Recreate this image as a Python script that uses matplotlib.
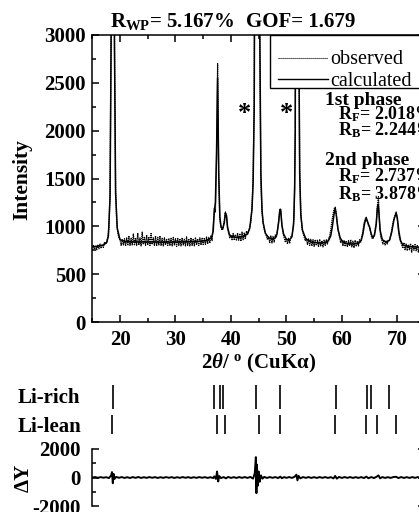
import numpy as np
import matplotlib
matplotlib.use("Agg")
import matplotlib.pyplot as plt
from matplotlib.patches import Rectangle
from matplotlib.lines import Line2D
from matplotlib.ticker import MultipleLocator, FixedLocator

plt.rcParams.update({
    'font.family': ['Liberation Serif', 'DejaVu Serif'],
    'font.weight': 'bold',
    'mathtext.fontset': 'custom',
    'mathtext.rm': 'Liberation Serif:bold',
    'mathtext.it': 'Liberation Serif:italic:bold',
    'mathtext.bf': 'Liberation Serif:bold',
    'axes.linewidth': 1.1,
    'axes.unicode_minus': False,
})

# ---------------- data ----------------
# observed pattern, sampled every 0.2 deg from 15.0 to 75.0
obs_intensity = [
    750, 805, 760, 800, 755, 810, 765, 815, 770, 810,
    780, 835, 818, 842, 885, 985, 1350, 3100, 9500, 8500,
    2900, 1400, 1050, 930, 880, 860, 800, 860, 805, 870,
    795, 880, 800, 900, 800, 875, 805, 920, 800, 880,
    800, 930, 805, 880, 795, 940, 810, 885, 800, 910,
    805, 890, 800, 925, 810, 880, 800, 900, 795, 885,
    805, 900, 800, 875, 795, 880, 805, 870, 800, 875,
    800, 875, 795, 885, 805, 870, 790, 880, 800, 870,
    795, 880, 805, 865, 795, 890, 800, 870, 795, 880,
    800, 870, 795, 885, 805, 870, 800, 880, 805, 875,
    810, 880, 810, 890, 815, 885, 825, 900, 850, 1000,
    1190, 1150, 1700, 2700, 1500, 1080, 990, 960, 985, 1050,
    1150, 1110, 975, 925, 880, 910, 860, 925, 855, 915,
    850, 930, 855, 925, 845, 940, 860, 930, 865, 950,
    920, 960, 990, 1050, 1200, 1500, 2300, 6000, 12000, 9000,
    5000, 3000, 1500, 1150, 1040, 975, 930, 895, 860, 890,
    830, 900, 825, 895, 835, 910, 890, 960, 1050, 1160,
    1175, 1010, 930, 880, 840, 870, 815, 875, 825, 890,
    900, 980, 1100, 2000, 8000, 10000, 3600, 1600, 1150, 990,
    930, 890, 850, 870, 810, 870, 800, 865, 795, 860,
    790, 860, 800, 855, 785, 865, 795, 850, 785, 855,
    800, 860, 815, 870, 900, 960, 1050, 1120, 1180, 1200,
    1130, 1020, 940, 880, 830, 860, 795, 855, 790, 850,
    785, 850, 795, 860, 785, 845, 775, 855, 790, 845,
    795, 860, 835, 895, 950, 1030, 1075, 1095, 1050, 1010,
    1000, 940, 880, 870, 900, 960, 1030, 1210, 1310, 1050,
    890, 860, 815, 850, 805, 845, 815, 860, 850, 900,
    960, 1030, 1080, 1120, 1150, 1080, 960, 880, 840, 810,
    770, 830, 755, 815, 745, 810, 755, 820, 730, 805,
    750, 810, 745, 800, 730, 795, 750, 805, 755, 800,
    775,
]
obs_2theta = np.round(np.arange(len(obs_intensity)) * 0.2 + 15.0, 2)

calc_2theta = [15, 16, 17, 17.6, 17.9, 18.2, 18.4, 18.6, 18.8, 19.0, 19.2, 19.5, 20, 21, 22,
               24, 26, 28, 30, 32, 34, 35.5, 36.5, 36.8, 37.0, 37.2, 37.4, 37.6, 37.8, 38.0,
               38.2, 38.5, 38.8, 39.0, 39.2, 39.4, 39.7, 40.0, 41, 42, 43, 43.4, 43.8, 44.0,
               44.2, 44.4, 44.6, 44.8, 45.0, 45.2, 45.4, 45.6, 45.8, 46.2, 46.8, 47.5, 48.0,
               48.3, 48.6, 48.8, 48.9, 49.0, 49.2, 49.5, 50, 50.5, 51.0, 51.3, 51.5, 51.6,
               51.8, 52.0, 52.2, 52.4, 52.6, 52.9, 53.5, 54.5, 56, 57, 57.6, 58.0, 58.3, 58.6,
               58.8, 59.0, 59.3, 59.7, 60.2, 61, 62, 63, 63.5, 63.8, 64.1, 64.4, 64.7, 65.0,
               65.3, 65.6, 65.9, 66.2, 66.4, 66.55, 66.7, 66.9, 67.3, 68, 68.6, 69.0, 69.4,
               69.8, 70.0, 70.3, 70.6, 71, 72, 73, 74, 75]
calc_intensity = [785, 792, 805, 830, 900, 1300, 3000, 9500, 8500, 2900, 1350, 980, 860, 840, 838,
                  836, 836, 835, 836, 838, 842, 850, 880, 950, 1150, 1250, 1750, 2550, 1550, 1100,
                  1000, 970, 1040, 1140, 1110, 990, 920, 895, 885, 890, 920, 980, 1180, 1450,
                  2250, 6000, 13000, 9500, 5200, 3100, 1550, 1180, 1040, 930, 880, 865, 880,
                  920, 1040, 1160, 1180, 1150, 1010, 920, 865, 855, 890, 1020, 1400, 2000,
                  8000, 10000, 3500, 1550, 1120, 960, 870, 835, 825, 830, 850, 900, 1000, 1130,
                  1190, 1120, 970, 880, 835, 818, 815, 825, 855, 920, 1030, 1085, 1040, 990,
                  920, 880, 910, 1020, 1180, 1230, 1130, 960, 860, 835, 855, 940, 1070,
                  1140, 1090, 940, 850, 805, 790, 785, 782, 780]

dy_2theta = [15.0, 15.5, 16.0, 16.5, 17.0, 17.5, 18.0, 18.4, 18.55, 18.7, 18.85, 19.0, 19.3, 19.8,
             20.3, 20.8, 21.3, 21.8, 22.3, 22.8, 23.3, 23.8, 24.3, 24.8, 25.3, 25.8, 26.3, 26.8,
             27.3, 27.8, 28.3, 28.8, 29.3, 29.8, 30.3, 30.8, 31.3, 31.8, 32.3, 32.8, 33.3, 33.8,
             34.3, 34.8, 35.3, 35.8, 36.3, 36.8, 37.0, 37.3, 37.5, 37.7, 37.9, 38.2, 38.7, 39.1,
             39.5, 40.0, 40.5, 41.0, 41.5, 42.0, 42.5, 43.0, 43.5, 44.0, 44.3, 44.5, 44.6, 44.7,
             44.8, 45.0, 45.2, 45.4, 45.7, 46.0, 46.5, 47.0, 47.5, 48.0, 48.5, 48.9, 49.2, 49.6,
             50.0, 50.5, 51.0, 51.5, 51.8, 52.0, 52.2, 52.5, 53.0, 53.5, 54.0, 54.5, 55.0, 55.5,
             56.0, 56.5, 57.0, 57.5, 58.0, 58.5, 58.8, 59.1, 59.5, 60.0, 60.5, 61.0, 61.5, 62.0,
             62.5, 63.0, 63.5, 64.0, 64.4, 64.8, 65.3, 65.8, 66.3, 66.6, 66.9, 67.3, 67.8, 68.3,
             68.8, 69.3, 69.8, 70.2, 70.7, 71.2, 71.7, 72.2, 72.7, 73.2, 73.7, 74.2, 74.7, 75.0]
dy_values = [0, 30, -20, 25, -15, 20, -40, 150, 380, -400, 250, -100, 40, -20,
             30, -30, 20, -35, 30, -25, 35, -30, 20, -25, 30, -20, 25, -30,
             20, -25, 30, -20, 25, -30, 20, -25, 30, -20, 25, -30, 20, -25,
             30, -20, 25, -30, 20, -40, 80, -100, 420, -280, 100, -40, 30, -60,
             40, -30, 25, -30, 30, -25, 30, -30, 40, -80, 300, 1430, -1100, 900,
             -600, 420, -300, 150, -80, 40, -30, 30, -25, 30, -40, 60, -50, 30,
             -25, 30, -30, 60, 200, -200, 120, -60, 30, -25, 30, -30, 25, -30,
             30, -25, 30, -30, 25, -60, 110, -80, 40, -30, 30, -25, 30, -30,
             25, -30, 30, -40, 60, -50, 30, -40, 60, 150, -60, 30, -30, 25,
             -30, 30, 50, -40, 30, -30, 25, -30, 30, -25, 30, -30, 25, -20]

li_rich_pos = [18.8, 36.9, 38.1, 38.6, 44.6, 48.9, 58.9, 64.6, 65.2, 68.5]
li_lean_pos = [18.6, 37.4, 39.0, 45.0, 48.9, 58.7, 64.3, 66.4, 69.7]

# ---------------- figure ----------------
W, H = 419, 512
fig = plt.figure(figsize=(W / 100, H / 100), dpi=100)


def fx(x):
    return x / W


def fy(y):
    return 1 - y / H


AX_L, AX_R = 92.3, 425.0


def add_ax(top, bottom):
    return fig.add_axes([fx(AX_L), fy(bottom), (AX_R - AX_L) / W, (bottom - top) / H])


ax = add_ax(35, 322)
ax.plot(obs_2theta, obs_intensity, color='black', lw=0.9, ls=(0, (1, 0.6)))
ax.plot(calc_2theta, calc_intensity, color='black', lw=1.1)
ax.set_xlim(15, 75)
ax.set_ylim(0, 3000)
ax.xaxis.set_major_locator(MultipleLocator(10))
ax.xaxis.set_minor_locator(MultipleLocator(5))
ax.yaxis.set_major_locator(MultipleLocator(500))
ax.yaxis.set_minor_locator(MultipleLocator(250))
ax.tick_params(which='both', direction='in', top=True, right=True, width=1.1)
ax.tick_params(which='major', length=5)
ax.tick_params(which='minor', length=3)
ax.tick_params(axis='x', which='major', labelsize=15, pad=5.5)
ax.tick_params(axis='y', which='major', labelsize=15, pad=4.5)

# phase tick marks
axt = add_ax(383, 436)
axt.vlines(li_rich_pos, 0.51, 0.96, color='black', lw=1.2)
axt.vlines(li_lean_pos, 0.04, 0.40, color='black', lw=1.2)
axt.set_xlim(15, 75)
axt.set_ylim(0, 1)
axt.axis('off')

# difference curve
axd = add_ax(449, 506)
axd.plot(dy_2theta, dy_values, color='black', lw=1.4)
axd.set_xlim(15, 75)
axd.set_ylim(-2000, 2000)
axd.spines['top'].set_visible(False)
axd.spines['bottom'].set_visible(False)
axd.yaxis.set_major_locator(FixedLocator([-2000, 0, 2000]))
axd.yaxis.set_minor_locator(FixedLocator([-1000, 1000]))
axd.tick_params(axis='x', which='both', bottom=False, labelbottom=False)
axd.tick_params(axis='y', which='both', direction='in', right=True, width=1.1)
axd.tick_params(axis='y', which='major', length=5, labelsize=15, pad=8.5)
axd.tick_params(axis='y', which='minor', length=3)

# texts
fig.text(fx(110), fy(27), r"R$_{\rm WP}$= 5.167%", fontsize=15, va='baseline', ha='left')
fig.text(fx(246), fy(27), "GOF= 1.679", fontsize=15, va='baseline', ha='left')
fig.text(fx(22.5), fy(180), "Intensity", fontsize=15.5, rotation=90, ha='center', va='center')
fig.text(fx(259), fy(363), r"2$\theta$/ $^{\rm o}$ (CuKα)", fontsize=15, ha='center', va='center')
fig.text(fx(18), fy(403.3), "Li-rich", fontsize=15, ha='left', va='baseline')
fig.text(fx(18), fy(431.7), "Li-lean", fontsize=15, ha='left', va='baseline')
fig.text(fx(23.7), fy(478), "ΔY", fontsize=15, rotation=90, ha='center', va='center')

for xa in (245, 287):
    fig.text(fx(xa), fy(120), "*", fontsize=19, ha='center', va='baseline')

# legend box
fig.add_artist(Rectangle((fx(270), fy(88)), (160) / W, (88 - 35) / H, transform=fig.transFigure,
                         facecolor='white', edgecolor='black', lw=1.0, zorder=5))
fig.add_artist(Line2D([fx(277.7), fx(328.3)], [fy(58.3), fy(58.3)], transform=fig.transFigure,
                      color='black', lw=0.8, ls=(0, (1, 0.8)), zorder=6))
fig.add_artist(Line2D([fx(277.7), fx(328.3)], [fy(79), fy(79)], transform=fig.transFigure,
                      color='black', lw=1.0, zorder=6))
fig.text(fx(330.7), fy(64.5), "observed", fontsize=14.5, fontweight='normal', va='baseline', zorder=7)
fig.text(fx(330.7), fy(85.5), "calculated", fontsize=14.5, fontweight='normal', va='baseline', zorder=7)

fig.text(fx(325), fy(105), "1st phase", fontsize=14, va='baseline')
fig.text(fx(338), fy(119), r"R$_{\rm F}$= 2.018%", fontsize=13, va='baseline')
fig.text(fx(338), fy(135), r"R$_{\rm B}$= 2.244%", fontsize=13, va='baseline')
fig.text(fx(325), fy(165), "2nd phase", fontsize=14, va='baseline')
fig.text(fx(338), fy(181), r"R$_{\rm F}$= 2.737%", fontsize=13, va='baseline')
fig.text(fx(338), fy(199), r"R$_{\rm B}$= 3.878%", fontsize=13, va='baseline')

fig.savefig("out.png", dpi=100)
